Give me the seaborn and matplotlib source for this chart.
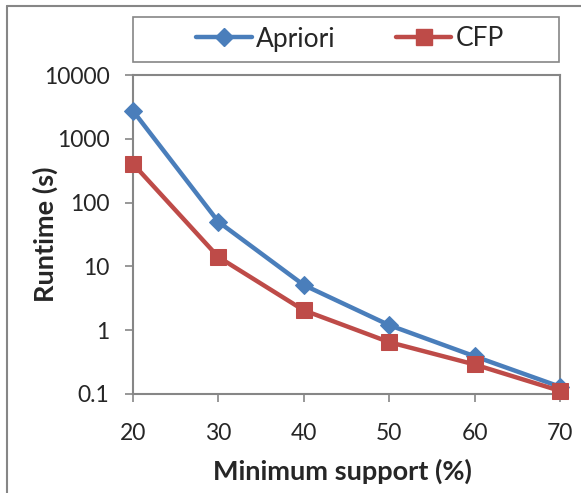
import matplotlib
matplotlib.use("Agg")
import matplotlib.pyplot as plt
import seaborn as sns
import pandas as pd
from matplotlib.lines import Line2D
from matplotlib.patches import Rectangle

support = [20, 30, 40, 50, 60, 70]
apriori = [2740, 50, 5.1, 1.2, 0.39, 0.13]
cfp = [405, 14, 2.05, 0.65, 0.29, 0.112]
series_names = ["Apriori", "CFP"]
y_ticks = [0.1, 1, 10, 100, 1000, 10000]
y_tick_labels = ["0.1", "1", "10", "100", "1000", "10000"]

sns.set_style("white")
plt.rcParams["font.family"] = ["Lato", "DejaVu Sans"]

df = pd.DataFrame({
    "support": support * 2,
    "runtime": apriori + cfp,
    "algo": [series_names[0]] * len(support) + [series_names[1]] * len(support),
})

W, H = 581, 493
fig = plt.figure(figsize=(W / 100, H / 100), dpi=100)
ax = fig.add_axes([133 / W, 1 - 394 / H, (560 - 133) / W, (394 - 75) / H])

colors = {"Apriori": "#4A7EBB", "CFP": "#BE4B48"}
markers = {"Apriori": "D", "CFP": "s"}
sizes = {"Apriori": 9, "CFP": 11}
for name in series_names:
    sub = df[df["algo"] == name]
    sns.lineplot(data=sub, x="support", y="runtime", ax=ax, color=colors[name],
                 marker=markers[name], markersize=sizes[name], linewidth=3.2,
                 markeredgecolor=colors[name], clip_on=False, zorder=3, legend=False)

ax.set_yscale("log")
ax.set_ylim(0.1, 10000)
ax.set_xlim(20, 70)
ax.set_yticks(y_ticks)
ax.set_yticklabels(y_tick_labels)
ax.minorticks_off()
ax.set_xticks(support)
ax.set_xticklabels([str(s) for s in support])
ax.tick_params(axis="both", labelsize=16.5, length=6, width=1.2, color="#868686",
               direction="out", left=True, bottom=True)
ax.tick_params(axis="y", pad=11)
ax.tick_params(axis="x", pad=15)
for sp in ax.spines.values():
    sp.set_color("#868686")
    sp.set_linewidth(1.5)
ax.set_xlabel("Minimum support (%)", fontsize=19.5, fontweight="bold")
ax.set_ylabel("Runtime (s)", fontsize=19.5, fontweight="bold")
ax.xaxis.set_label_coords((342 - 133) / (560 - 133), -(471 - 394) / (394 - 75))
ax.yaxis.set_label_coords(-(133 - 45) / (560 - 133), 0.5)
ax.xaxis.label.set_va("center")
ax.yaxis.label.set_va("center")

# legend box
fig.patches.append(Rectangle((133 / W, 1 - 62 / H), (559 - 133) / W, (62 - 17) / H,
                             transform=fig.transFigure, fill=False,
                             edgecolor="#868686", linewidth=1.2))
handles = [Line2D([], [], color=colors[n], marker=markers[n], markersize=sizes[n],
                  linewidth=3.2) for n in series_names]
fig.legend(handles, series_names, loc="center", bbox_to_anchor=(350 / W, 1 - 39 / H),
           ncol=2, frameon=False, fontsize=19, columnspacing=2.3, handlelength=2.1,
           handletextpad=0.15, borderpad=0)

# outer chart border (left and top visible)
fig.add_artist(Line2D([7 / W, 7 / W], [0, 1 - 6 / H], transform=fig.transFigure,
                      color="#868686", linewidth=1.5))
fig.add_artist(Line2D([7 / W, 1], [1 - 6 / H, 1 - 6 / H], transform=fig.transFigure,
                      color="#868686", linewidth=1.5))

fig.savefig("out.png", dpi=100)
